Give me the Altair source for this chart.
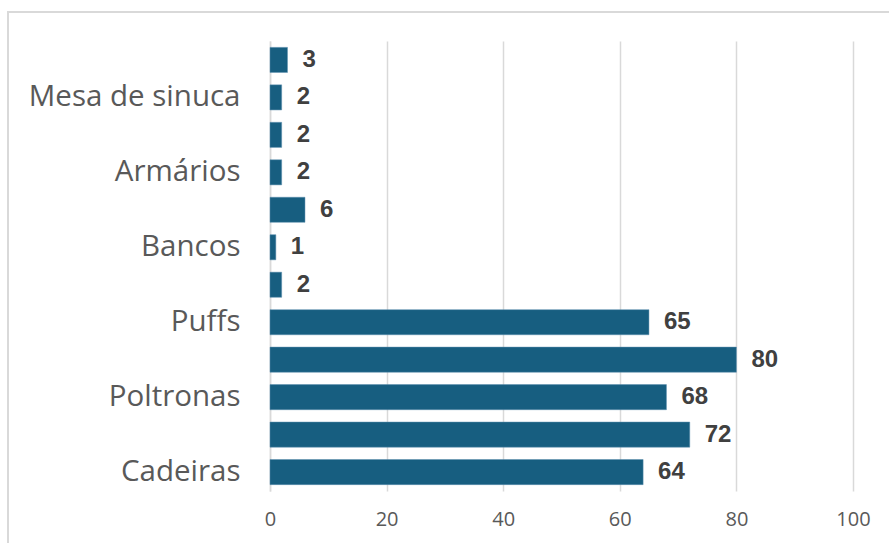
import altair as alt
import pandas as pd

categories = ["Outros 1", "Mesa de sinuca", "Outros 2", "Armários", "Outros 3", "Bancos",
              "Outros 4", "Puffs", "Outros 5", "Poltronas", "Outros 6", "Cadeiras"]
shown_labels = ["Mesa de sinuca", "Armários", "Bancos", "Puffs", "Poltronas", "Cadeiras"]
values = [3, 2, 2, 2, 6, 1, 2, 65, 80, 68, 72, 64]
x_ticks = [0, 20, 40, 60, 80, 100]

df = pd.DataFrame({"cat": categories, "val": values})

label_list = "[" + ",".join("'" + s + "'" for s in shown_labels) + "]"

W, H = 583, 450
FONT = "Open Sans"

base = alt.Chart(df)

y_enc = alt.Y("cat:N", sort=categories, title=None,
              scale=alt.Scale(paddingInner=0.33, paddingOuter=0.17),
              axis=alt.Axis(labelExpr=f"indexof({label_list}, datum.value) >= 0 ? datum.value : ''",
                            labelFontSize=29.5, labelColor="#595959", labelFont=FONT,
                            labelLimit=400,
                            ticks=False, labelPadding=30, domainColor="#d9d9d9",
                            domainWidth=1.5, grid=False))

bars = base.mark_bar(color="#175E80", stroke="#5d8fae", strokeWidth=0.5).encode(
    x=alt.X("val:Q", title=None,
            scale=alt.Scale(domain=[0, 100], nice=False),
            axis=alt.Axis(values=x_ticks, labelFontSize=20, labelColor="#595959", labelFont=FONT,
                          labelFlush=False,
                          ticks=False, domain=False, labelPadding=18, gridColor="#d9d9d9",
                          gridWidth=1.5)),
    y=y_enc,
)

text = base.mark_text(align="left", baseline="middle", dx=15, fontSize=24, fontWeight="bold",
                      color="#404040", font="Liberation Sans").encode(
    x="val:Q", y=alt.Y("cat:N", sort=categories), text="val:Q")

frame = alt.Chart(pd.DataFrame({"a": [0]})).mark_rect(
    fill=None, stroke="#d9d9d9", strokeWidth=2).encode(
    x=alt.value(-262), x2=alt.value(640), y=alt.value(-29), y2=alt.value(520))

chart = alt.layer(frame, bars, text).properties(
    width=W, height=H,
    background="white",
    padding={"left": 270, "top": 41, "right": 36, "bottom": 52},
    autosize=alt.AutoSizeParams(type="none"),
).configure_view(stroke=None)

chart.save("out.html", embed_options={"renderer": "svg", "actions": False})
